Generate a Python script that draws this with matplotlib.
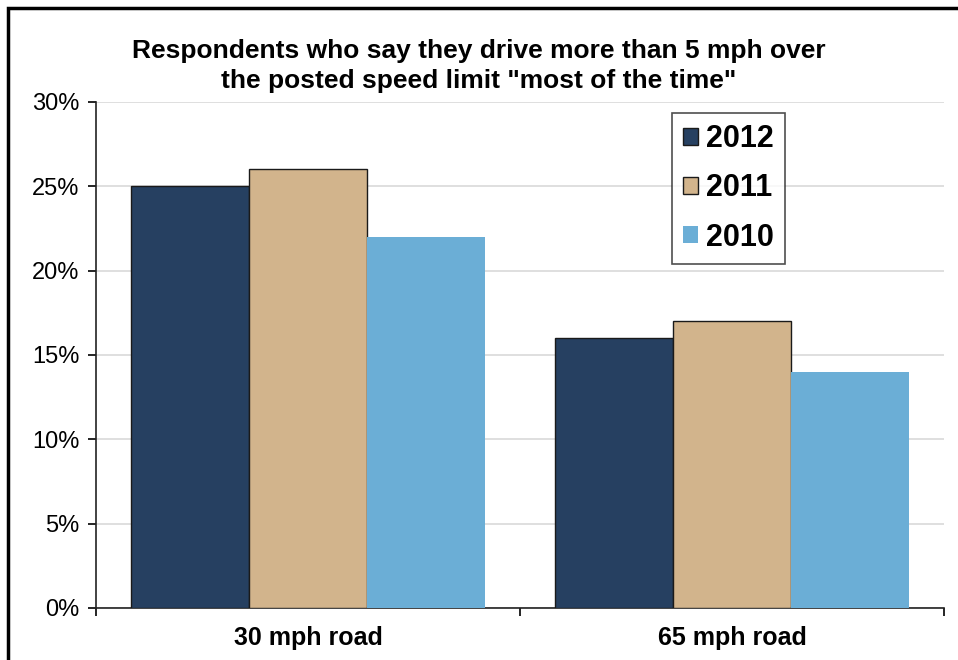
import numpy as np
import matplotlib
matplotlib.use("Agg")
import matplotlib.pyplot as plt
from matplotlib.patches import Rectangle
from matplotlib.ticker import FixedLocator, PercentFormatter

plt.rcParams['font.family'] = ['Liberation Sans', 'DejaVu Sans']

# Share of respondents (%) by road type and survey year
roads = ['30 mph road', '65 mph road']
years = ['2012', '2011', '2010']
pct_2012 = [25, 16]
pct_2011 = [26, 17]
pct_2010 = [22, 14]

colors = ['#264061', '#d2b48c', '#6baed6']
edges = ['#1a1a1a', '#1a1a1a', 'none']

fig = plt.figure(figsize=(9.58, 6.6), dpi=100)
ax = fig.add_axes([0.1002, 0.0788, 0.8852, 0.7667])

x = np.arange(len(roads))
width = 0.278
for i, (vals, year) in enumerate(zip([pct_2012, pct_2011, pct_2010], years)):
    ax.bar(x + (i - 1) * width, vals, width, color=colors[i],
           edgecolor=edges[i], linewidth=1.0, label=year, zorder=3)

ax.set_xlim(-0.5, 1.5)
ax.set_ylim(0, 30)
ax.set_yticks(np.arange(0, 31, 5))
ax.yaxis.set_major_formatter(PercentFormatter(decimals=0))
ax.grid(axis='y', color='#d9d9d9', linewidth=1.2, zorder=0)

# category labels centred, tick marks on the group boundaries
ax.set_xticks(x)
ax.set_xticklabels(roads, fontsize=18, fontweight='bold')
ax.tick_params(axis='x', which='major', length=0, pad=13)
ax.xaxis.set_minor_locator(FixedLocator([-0.5, 0.5, 1.5]))
ax.tick_params(axis='x', which='minor', length=6, width=1.2, direction='out')
ax.tick_params(axis='y', labelsize=17, length=6, width=1.2, pad=6)

for side in ['top', 'right']:
    ax.spines[side].set_visible(False)
for side in ['left', 'bottom']:
    ax.spines[side].set_linewidth(1.2)
    ax.spines[side].set_color('#222222')

leg = ax.legend(loc='upper left', bbox_to_anchor=(0.679, 0.978), borderaxespad=0,
                prop={'weight': 'bold', 'size': 22}, frameon=True, fancybox=False,
                handlelength=0.5, handleheight=0.5, handletextpad=0.25,
                labelspacing=0.63, borderpad=0.36)
leg.get_frame().set_edgecolor('#222222')
leg.get_frame().set_linewidth(1.2)

fig.text(0.5, 0.900, 'Respondents who say they drive more than 5 mph over\n'
         'the posted speed limit "most of the time"',
         ha='center', va='center', fontsize=19, fontweight='bold',
         linespacing=1.33)

# outer frame around the chart area
fig.patches.append(Rectangle((0.0084, -0.1), 1.2, 1.088, transform=fig.transFigure,
                             fill=False, edgecolor='black', linewidth=2.5))

fig.savefig('out.png', dpi=100)
